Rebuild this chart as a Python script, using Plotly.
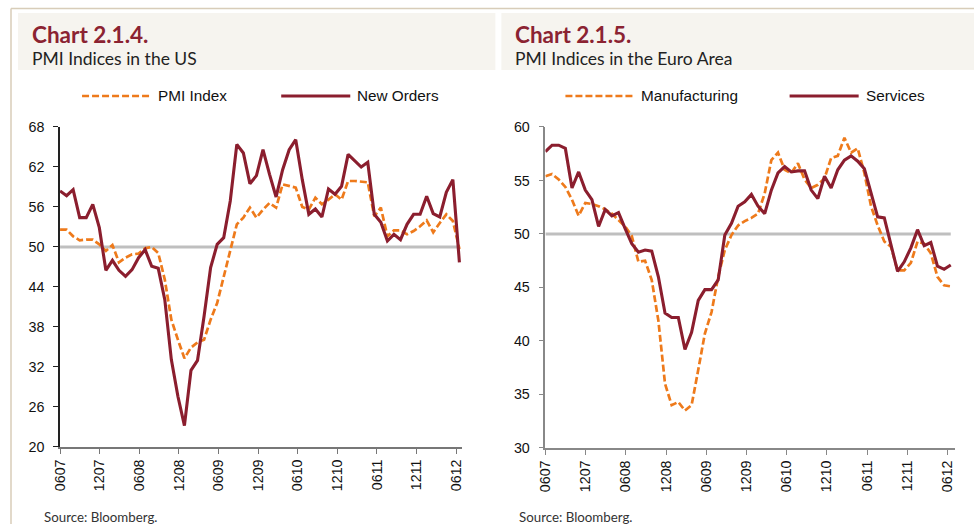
import plotly.graph_objects as go

# ---------------- data ----------------
tick_labels = ["0607", "1207", "0608", "1208", "0609", "1209",
               "0610", "1210", "0611", "1211", "0612"]

us_pmi = [52.6, 52.6, 51.6, 51.0, 51.1, 51.1, 50.4, 49.4, 50.3, 47.7, 48.4, 48.9,
          49.0, 49.8, 50.0, 49.1, 45.1, 39.1, 36.1, 33.3, 34.9, 35.7, 36.1, 39.1,
          41.6, 45.6, 49.6, 53.4, 54.4, 55.9, 54.4, 55.6, 56.6, 55.9, 59.4, 59.2,
          58.9, 56.0, 55.6, 57.4, 56.4, 57.1, 57.9, 57.1, 59.9, 59.9, 59.8, 59.7,
          54.6, 55.9, 51.6, 52.5, 52.5, 51.9, 52.4, 53.1, 54.0, 52.2, 53.6, 54.9,
          53.9, 49.7]

us_new_orders = [58.4, 57.7, 58.6, 54.4, 54.4, 56.4, 52.9, 46.5, 48.0, 46.5, 45.6, 46.6,
                 48.4, 49.6, 47.1, 46.8, 42.1, 33.1, 27.6, 23.2, 31.5, 33.0, 39.6, 46.9,
                 50.4, 51.4, 56.9, 65.4, 64.1, 59.5, 60.7, 64.6, 60.9, 57.5, 61.6, 64.6,
                 66.1, 60.1, 54.9, 55.7, 54.5, 58.7, 57.9, 59.1, 63.9, 62.9, 62.0, 62.7,
                 54.9, 53.7, 50.9, 51.9, 51.1, 53.4, 54.9, 54.9, 57.6, 55.0, 54.5, 58.2,
                 60.1, 47.7]

ea_manufacturing = [55.4, 55.6, 55.1, 54.4, 53.2, 51.7, 52.9, 52.8, 52.6, 52.3, 51.9, 51.3,
                    50.7, 49.8, 47.4, 47.5, 45.7, 41.9, 36.0, 34.0, 34.3, 33.5, 34.0, 37.3,
                    40.7, 42.7, 46.0, 48.5, 49.9, 50.8, 51.2, 51.5, 51.9, 53.8, 56.9, 57.6,
                    56.0, 55.7, 56.6, 55.1, 54.3, 54.6, 55.2, 57.1, 57.3, 59.0, 57.6, 58.0,
                    55.7, 52.6, 50.8, 49.3, 48.8, 46.6, 46.6, 47.3, 49.3, 49.1, 48.2, 46.0,
                    45.2, 45.1]

ea_services = [57.7, 58.3, 58.3, 58.0, 54.3, 55.8, 54.1, 53.2, 50.7, 52.3, 51.7, 52.0,
               50.5, 49.1, 48.3, 48.5, 48.4, 46.0, 42.6, 42.2, 42.2, 39.2, 40.8, 43.8,
               44.8, 44.8, 45.7, 49.9, 51.0, 52.6, 53.0, 53.7, 52.6, 51.9, 54.1, 55.7,
               56.3, 55.8, 55.9, 55.9, 54.1, 53.3, 55.4, 54.3, 56.0, 56.9, 57.3, 56.8,
               56.1, 53.8, 51.6, 51.5, 49.0, 46.5, 47.4, 48.7, 50.4, 48.9, 49.2, 47.0,
               46.7, 47.1]

reference_level = 50

# ---------------- styling ----------------
W, H = 975, 532
RED = "#8B1E2E"
ORANGE = "#EE7A1B"
TITLE_RED = "#8B2332"
GRAY_REF = "#BFBFBF"
HEADER_BG = "#F6F4EF"
BORDER = "#D8CDB9"
DASH = "7px,3px"

# measured page placement of the figure in the photographed window
PX0, PXS = 7.0, 0.99
PY0, PYS = 8.0, 0.97


def X(px):
    """target window pixel (x) -> paper fraction"""
    return min(max((px - PX0) / PXS / W, 0), 1)


def Y(py):
    """target window pixel (y) -> paper fraction"""
    return min(max(1 - (py - PY0) / PYS / H, 0), 1)


x_idx = list(range(len(us_pmi)))
tick_pos = [k * 6.05 for k in range(len(tick_labels))]

fig = go.Figure()

for xa, ya, n in (("x", "y", len(us_pmi)), ("x2", "y2", len(ea_services))):
    fig.add_trace(go.Scatter(x=[0, n - 1], y=[reference_level, reference_level],
                             mode="lines", line=dict(color=GRAY_REF, width=3),
                             xaxis=xa, yaxis=ya, hoverinfo="skip", showlegend=False))

fig.add_trace(go.Scatter(x=x_idx, y=us_pmi, name="PMI Index", mode="lines",
                         line=dict(color=ORANGE, width=2.7, dash=DASH),
                         xaxis="x", yaxis="y", showlegend=False))
fig.add_trace(go.Scatter(x=x_idx, y=us_new_orders, name="New Orders", mode="lines",
                         line=dict(color=RED, width=3.1),
                         xaxis="x", yaxis="y", showlegend=False))
fig.add_trace(go.Scatter(x=x_idx, y=ea_manufacturing, name="Manufacturing", mode="lines",
                         line=dict(color=ORANGE, width=2.7, dash=DASH),
                         xaxis="x2", yaxis="y2", showlegend=False))
fig.add_trace(go.Scatter(x=x_idx, y=ea_services, name="Services", mode="lines",
                         line=dict(color=RED, width=3.1),
                         xaxis="x2", yaxis="y2", showlegend=False))

tickfont = dict(family="Liberation Sans, Arial, sans-serif", size=14.3, color="#111")

common_x = dict(tickvals=tick_pos, ticktext=tick_labels, tickangle=-90,
                ticks="outside", ticklen=5, tickwidth=1, showline=True, linewidth=1.5,
                showgrid=False, zeroline=False, tickfont=tickfont, fixedrange=True)
common_y = dict(ticks="outside", ticklen=5, tickwidth=1, showline=True, linewidth=1.5,
                showgrid=False, zeroline=False, tickfont=tickfont, ticklabelstandoff=6,
                fixedrange=True)

fig.update_layout(
    width=W, height=H,
    margin=dict(l=0, r=0, t=0, b=0),
    paper_bgcolor="white", plot_bgcolor="white",
    showlegend=False,
    xaxis=dict(domain=[X(59), X(461)], range=[0, 61.45], anchor="y",
               linecolor="#777", tickcolor="#777", **common_x),
    yaxis=dict(domain=[Y(447), Y(127)], range=[20, 68], tick0=20, dtick=6, anchor="x",
               linecolor="#222", tickcolor="#222", **common_y),
    xaxis2=dict(domain=[X(544), X(953)], range=[0, 61.6], anchor="y2",
                linecolor="#888", tickcolor="#888", **common_x),
    yaxis2=dict(domain=[Y(448), Y(127)], range=[30, 60], tick0=30, dtick=5, anchor="x2",
                linecolor="#888", tickcolor="#888", **common_y),
)

shapes = []
shapes.append(dict(type="line", xref="paper", yref="paper", x0=X(10), x1=1,
                   y0=0.999, y1=0.999, line=dict(color=BORDER, width=1.5)))
shapes.append(dict(type="line", xref="paper", yref="paper", x0=X(10), x1=X(10),
                   y0=0.999, y1=0, line=dict(color=BORDER, width=1.5)))
shapes.append(dict(type="rect", xref="paper", yref="paper", x0=X(17), x1=X(494),
                   y0=Y(70), y1=Y(13), fillcolor=HEADER_BG, line=dict(width=0), layer="below"))
shapes.append(dict(type="rect", xref="paper", yref="paper", x0=X(500), x1=1,
                   y0=Y(70), y1=Y(13), fillcolor=HEADER_BG, line=dict(width=0), layer="below"))

legend_items = [
    (81, 149, 157, "PMI Index", ORANGE, DASH, 2.7),
    (280, 349, 356, "New Orders", RED, "solid", 3.1),
    (564, 633, 640, "Manufacturing", ORANGE, DASH, 2.7),
    (788, 857, 864, "Services", RED, "solid", 3.1),
]
annotations = []
for x0, x1, xt, label, col, dash, w in legend_items:
    shapes.append(dict(type="line", xref="paper", yref="paper", x0=X(x0), x1=X(x1),
                       y0=Y(96), y1=Y(96), line=dict(color=col, width=w, dash=dash)))
    annotations.append(dict(xref="paper", yref="paper", x=X(xt - 2), y=Y(96), text=label,
                            showarrow=False, xanchor="left", yanchor="middle",
                            font=dict(family="Liberation Sans, Arial, sans-serif",
                                      size=15.3, color="#111")))

title_font = "Lato, 'Noto Sans', sans-serif"
for xt, title, sub in ((31, "Chart 2.1.4.", "PMI Indices in the US"),
                       (514, "Chart 2.1.5.", "PMI Indices in the Euro Area")):
    annotations.append(dict(xref="paper", yref="paper", x=X(xt - 2), y=Y(35),
                            text="<b>" + title + "</b>", showarrow=False,
                            xanchor="left", yanchor="middle",
                            font=dict(family=title_font, size=22.5, color=TITLE_RED)))
    annotations.append(dict(xref="paper", yref="paper", x=X(xt - 2), y=Y(59),
                            text=sub, showarrow=False, xanchor="left", yanchor="middle",
                            font=dict(family=title_font, size=17.5, color="#222")))

for xt in (43, 518):
    annotations.append(dict(xref="paper", yref="paper", x=X(xt - 2), y=Y(517),
                            text="Source: Bloomberg.", showarrow=False,
                            xanchor="left", yanchor="middle",
                            font=dict(family=title_font, size=13.3, color="#333")))

fig.update_layout(shapes=shapes, annotations=annotations)

fig.write_html(
    "out.html",
    config={"displayModeBar": False},
    post_script="document.body.style.margin='0';document.body.style.overflow='hidden';",
)
